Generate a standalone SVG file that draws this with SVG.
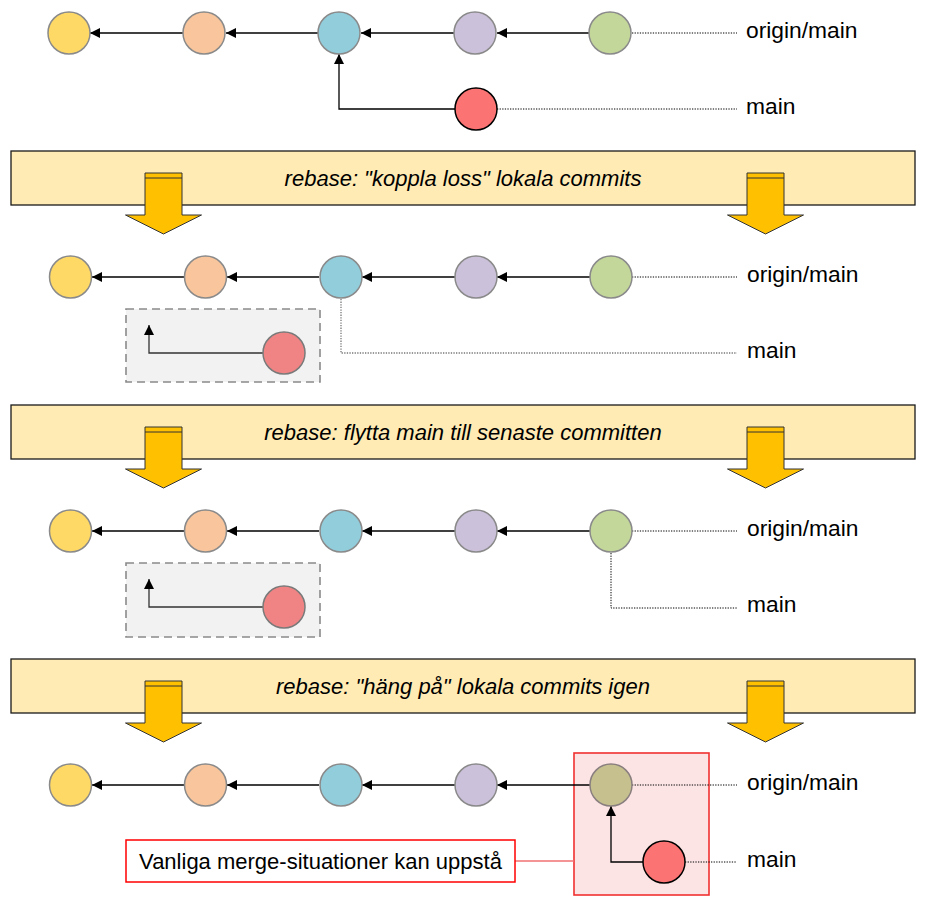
<svg xmlns="http://www.w3.org/2000/svg" width="926" height="906" viewBox="0 0 926 906">
<defs>
<style>
text{font-family:"Liberation Sans",Arial,sans-serif;font-size:22px;fill:#000}
.lbl{font-size:22.8px}
.band{fill:#FFEBB3;stroke:#1a1a1a;stroke-width:1.3}
.bt{font-style:italic;text-anchor:middle}
.c{stroke:#8a8a8a;stroke-width:1.5}
.y{fill:#FFD966}.p{fill:#F8C59C}.b{fill:#92CDDC}.v{fill:#CCC1DA}.g{fill:#C4D79B}
.r{fill:#FC7373;stroke:#000;stroke-width:1.5}
.rp{fill:#F08484;stroke:#7a7a7a;stroke-width:1.5}
.ol{fill:#C6C08F;stroke:#8a7f7f;stroke-width:1.5}
.ln{fill:none;stroke:#000;stroke-width:1.3}
.lg{fill:none;stroke:#333;stroke-width:1.3}
.dot{fill:none;stroke:#000;stroke-width:1;stroke-dasharray:1.3 1.3}
.dotg{fill:none;stroke:#777;stroke-width:1.3;stroke-dasharray:1.3 1.3}
.dash{fill:#F2F2F2;stroke:#8a8a8a;stroke-width:1.6;stroke-dasharray:8 5}
.ba{fill:#FFC000;stroke:#333;stroke-width:1}
</style>
<marker id="ah" viewBox="0 0 10 10" refX="10" refY="5" markerWidth="10" markerHeight="10" markerUnits="userSpaceOnUse" orient="auto">
<path d="M0,0 L10,5 L0,10 Z" fill="#000"/>
</marker>
<g id="blockarrow">
<path class="ba" d="M-18.5,0 H18.5 V42 H38 L0,61 L-38,42 H-18.5 Z"/>
<line x1="-18.5" y1="5" x2="18.5" y2="5" stroke="#333" stroke-width="1"/>
</g>
</defs>

<g id="connectors">
<!-- row 1 -->
<line class="ln" x1="183" y1="33" x2="90" y2="33" marker-end="url(#ah)"/>
<line class="ln" x1="318" y1="33" x2="226" y2="33" marker-end="url(#ah)"/>
<line class="ln" x1="454" y1="33" x2="361" y2="33" marker-end="url(#ah)"/>
<line class="ln" x1="589" y1="33" x2="497" y2="33" marker-end="url(#ah)"/>
<path class="ln" d="M455,109 H339 V54" marker-end="url(#ah)"/>
<line class="dot" x1="632" y1="33" x2="737" y2="33"/>
<line class="dot" x1="497" y1="109" x2="737" y2="109"/>
<!-- row 2 -->
<line class="ln" x1="184" y1="277" x2="92" y2="277" marker-end="url(#ah)"/>
<line class="ln" x1="319" y1="277" x2="227" y2="277" marker-end="url(#ah)"/>
<line class="ln" x1="455" y1="277" x2="362" y2="277" marker-end="url(#ah)"/>
<line class="ln" x1="590" y1="277" x2="497" y2="277" marker-end="url(#ah)"/>
<line class="dot" x1="632" y1="277" x2="737" y2="277"/>
<path class="dotg" d="M341,299 V353 H737"/>
<!-- row 3 -->
<line class="ln" x1="184" y1="531" x2="92" y2="531" marker-end="url(#ah)"/>
<line class="ln" x1="319" y1="531" x2="227" y2="531" marker-end="url(#ah)"/>
<line class="ln" x1="455" y1="531" x2="362" y2="531" marker-end="url(#ah)"/>
<line class="ln" x1="590" y1="531" x2="497" y2="531" marker-end="url(#ah)"/>
<line class="dot" x1="632" y1="531" x2="737" y2="531"/>
<path class="dot" d="M611,553 V608 H737"/>
</g>

<g id="row1">
<circle class="c y" cx="69" cy="33" r="21"/>
<circle class="c p" cx="204" cy="33" r="21"/>
<circle class="c b" cx="339" cy="33" r="21"/>
<circle class="c v" cx="475" cy="33" r="21"/>
<circle class="c g" cx="610" cy="33" r="21"/>
<circle class="r" cx="476" cy="109" r="21"/>
<text class="lbl" x="746" y="38">origin/main</text>
<text class="lbl" x="746" y="114">main</text>
</g>

<g id="band1">
<rect class="band" x="11" y="151" width="904" height="54"/>
<text class="bt" x="463" y="186">rebase: "koppla loss" lokala commits</text>
<use href="#blockarrow" x="163.5" y="173"/>
<use href="#blockarrow" x="765.5" y="173"/>
</g>

<g id="row2">
<circle class="c y" cx="70.5" cy="277" r="21"/>
<circle class="c p" cx="205.5" cy="277" r="21"/>
<circle class="c b" cx="341" cy="277" r="21"/>
<circle class="c v" cx="476" cy="277" r="21"/>
<circle class="c g" cx="611" cy="277" r="21"/>
<g id="detached1">
<rect class="dash" x="126" y="309" width="194" height="73"/>
<path class="lg" d="M263,353 H149 V325" marker-end="url(#ah)"/>
<circle class="rp" cx="284" cy="353" r="21"/>
</g>
<text class="lbl" x="747" y="282">origin/main</text>
<text class="lbl" x="747" y="358">main</text>
</g>

<g id="band2">
<rect class="band" x="11" y="405" width="904" height="54"/>
<text class="bt" x="463" y="440">rebase: flytta main till senaste committen</text>
<use href="#blockarrow" x="163.5" y="427"/>
<use href="#blockarrow" x="765.5" y="427"/>
</g>

<g id="row3">
<circle class="c y" cx="70.5" cy="531" r="21"/>
<circle class="c p" cx="205.5" cy="531" r="21"/>
<circle class="c b" cx="341" cy="531" r="21"/>
<circle class="c v" cx="476" cy="531" r="21"/>
<circle class="c g" cx="611" cy="531" r="21"/>
<g id="detached2">
<rect class="dash" x="126" y="563" width="194" height="74"/>
<path class="lg" d="M263,607 H149 V579" marker-end="url(#ah)"/>
<circle class="rp" cx="284" cy="607" r="21"/>
</g>
<text class="lbl" x="747" y="536">origin/main</text>
<text class="lbl" x="747" y="612">main</text>
</g>

<g id="band3">
<rect class="band" x="11" y="659" width="904" height="54"/>
<text class="bt" x="463" y="694">rebase: "häng på" lokala commits igen</text>
<use href="#blockarrow" x="163.5" y="681"/>
<use href="#blockarrow" x="765.5" y="681"/>
</g>

<g id="row4">
<rect x="574" y="753" width="135" height="142" fill="#FDE4E4" stroke="#F03030" stroke-width="1.6"/>
<g id="connectors4">
<line class="ln" x1="184" y1="785" x2="92" y2="785" marker-end="url(#ah)"/>
<line class="ln" x1="319" y1="785" x2="227" y2="785" marker-end="url(#ah)"/>
<line class="ln" x1="455" y1="785" x2="362" y2="785" marker-end="url(#ah)"/>
<line class="ln" x1="590" y1="785" x2="497" y2="785" marker-end="url(#ah)"/>
<line class="dot" x1="632" y1="785" x2="737" y2="785"/>
<line class="dot" x1="685" y1="862" x2="737" y2="862"/>
<path class="ln" d="M643,862 H611 V806" stroke="#200" marker-end="url(#ah)"/>
<line x1="515" y1="861" x2="574" y2="861" stroke="#F07070" stroke-width="1.3"/>
</g>
<circle class="c y" cx="70.5" cy="785" r="21"/>
<circle class="c p" cx="205.5" cy="785" r="21"/>
<circle class="c b" cx="341" cy="785" r="21"/>
<circle class="c v" cx="476" cy="785" r="21"/>
<circle class="ol" cx="611" cy="785" r="21"/>
<circle class="r" cx="664" cy="862" r="21"/>
<text class="lbl" x="747" y="790">origin/main</text>
<text class="lbl" x="747" y="867">main</text>
</g>

<g id="callout">
<rect x="126" y="840" width="389" height="42" fill="#fff" stroke="#FF0000" stroke-width="1.5"/>
<text x="320.5" y="869" text-anchor="middle">Vanliga merge-situationer kan uppstå</text>
</g>
</svg>
